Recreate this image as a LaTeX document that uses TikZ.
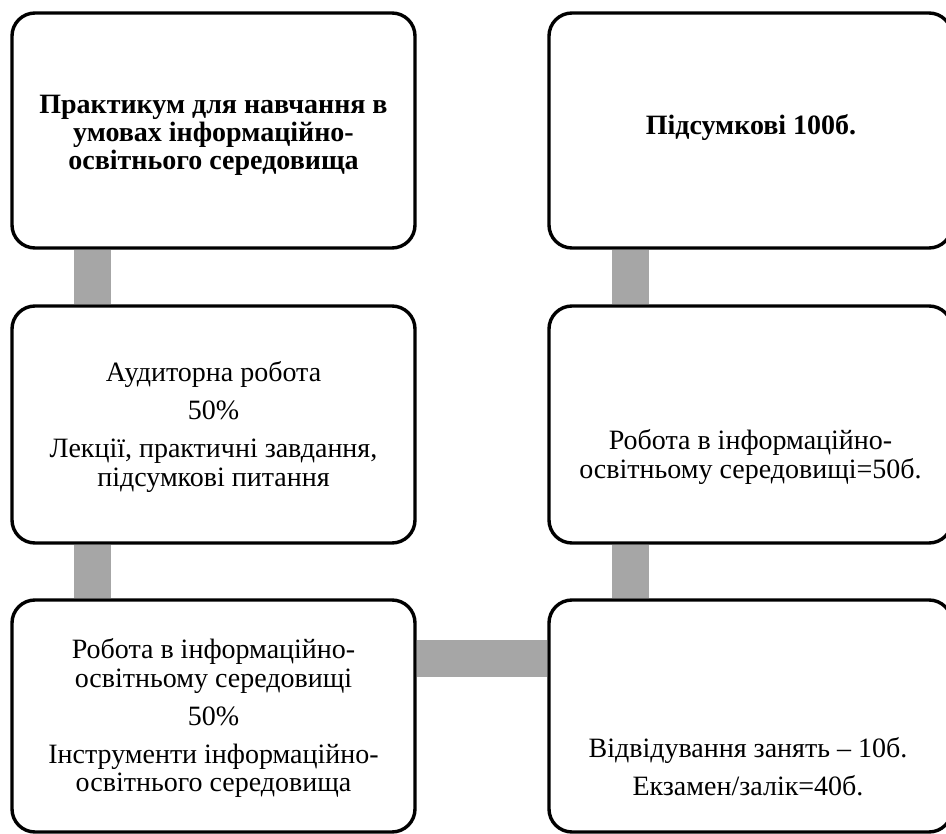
\documentclass[tikz,border=0pt]{standalone}
\usepackage{fontspec}
\setmainfont{Liberation Serif}
\pgfdeclarelayer{background}
\pgfsetlayers{background,main}
\definecolor{bargray}{RGB}{166,166,166}
\begin{document}
\begin{tikzpicture}[x=1pt,y=-1pt,
  box/.style={draw=black, line width=3.4pt, rounded corners=23pt, minimum width=403pt, minimum height=235pt, inner sep=0pt},
  midbox/.style={box, minimum height=237pt},
  bottombox/.style={box, minimum height=232pt},
  txt/.style={align=center, font=\fontsize{28}{28.5}\selectfont, inner sep=0pt},
  boldtxt/.style={txt, font=\fontsize{28}{28}\selectfont\bfseries},
  bar/.style={draw=bargray, line width=37pt, line cap=butt}]
\useasboundingbox (0,0) rectangle (946,834);
% boxes
\node[box] (tl) at (213.5,130.5) {};
\node[midbox] (ml) at (213.5,424.5) {};
\node[bottombox] (bl) at (213.5,716) {};
\node[box] (tr) at (750.5,130.5) {};
\node[midbox] (mr) at (750.5,424.5) {};
\node[bottombox] (br) at (750.5,716) {};
% texts
\node[boldtxt] (ttl) at (213.5,135) {Практикум для навчання в\\умовах інформаційно-\\освітнього середовища};
\node[txt] (tml) at (213.5,427) {Аудиторна робота\\[9.5pt]50\%\\[9.5pt]Лекції, практичні завдання,\\підсумкові питання};
\node[txt] (tbl) at (213.5,718) {Робота в інформаційно-\\освітньому середовищі\\[9.5pt]50\%\\[9.5pt]Інструменти інформаційно-\\освітнього середовища};
\node[boldtxt] (ttr) at (751,128) {Підсумкові 100б.};
\node[txt] (tmr) at (750.5,457) {Робота в інформаційно-\\освітньому середовищі=50б.};
\node[txt] (tbr) at (748,767) {Відвідування занять – 10б.\\[9.5pt]Екзамен/залік=40б.};
% connectors
\begin{pgfonlayer}{background}
\draw[bar] ([xshift=82.5pt]tl.south west) -- ([xshift=82.5pt]ml.north west);
\draw[bar] ([xshift=82.5pt]ml.south west) -- ([xshift=82.5pt]bl.north west);
\draw[bar] ([xshift=83.5pt]tr.south west) -- ([xshift=83.5pt]mr.north west);
\draw[bar] ([xshift=83.5pt]mr.south west) -- ([xshift=83.5pt]br.north west);
\draw[bar] ([yshift=-60pt]bl.north east) -- ([yshift=-60pt]br.north west);
\end{pgfonlayer}
\end{tikzpicture}
\end{document}
